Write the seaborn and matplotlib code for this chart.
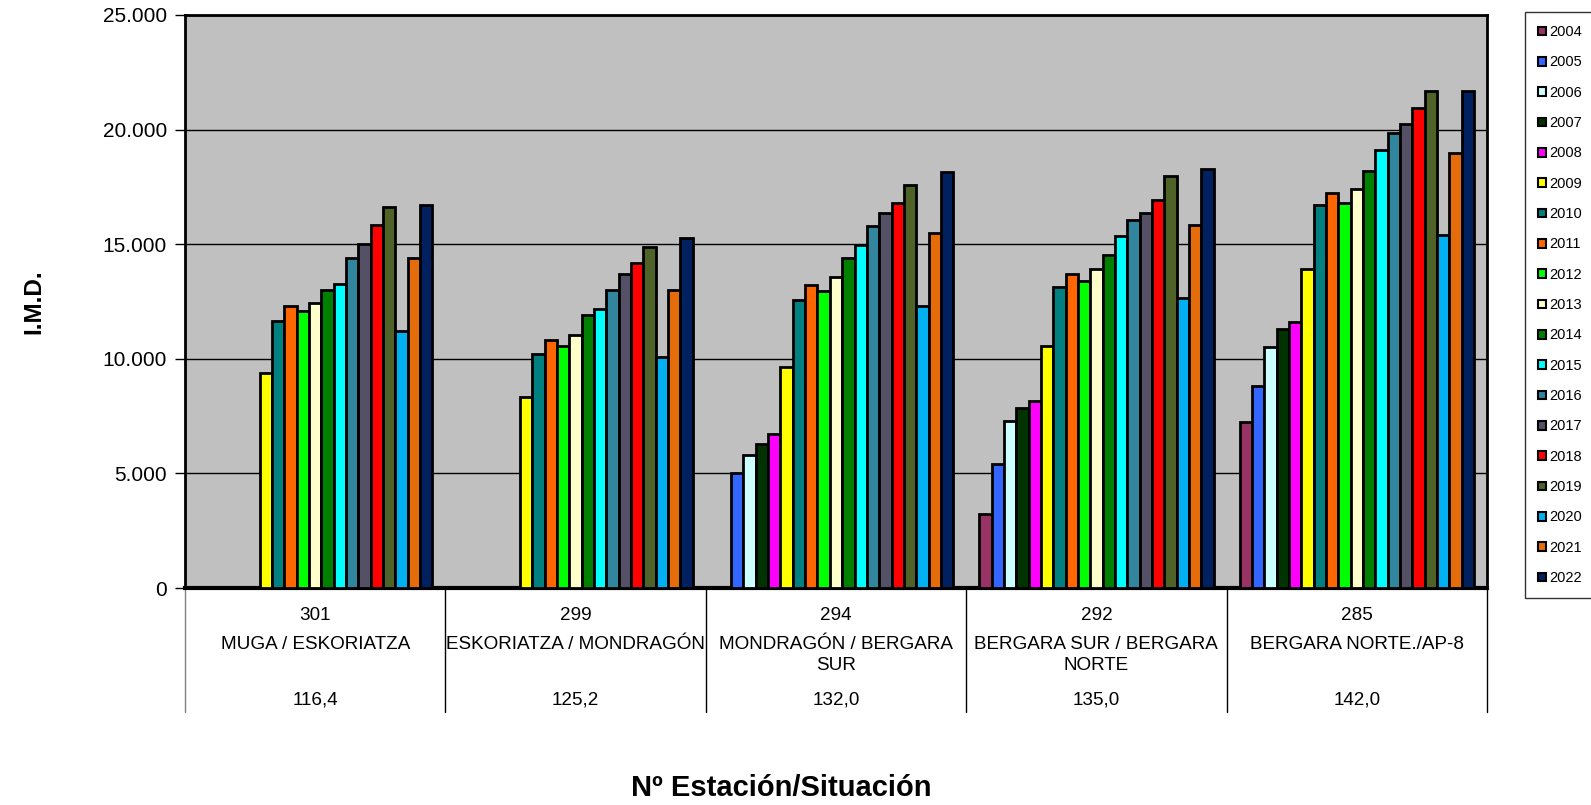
import numpy as np
import pandas as pd
import matplotlib
matplotlib.use("Agg")
import matplotlib.pyplot as plt
import matplotlib.transforms as mtransforms
from matplotlib.ticker import FuncFormatter, MultipleLocator
from matplotlib.patches import Patch
import seaborn as sns

# ---------------- data ----------------
years = [str(y) for y in range(2004, 2023)]
stations = ["301", "299", "294", "292", "285"]
names = ["MUGA / ESKORIATZA", "ESKORIATZA / MONDRAGÓN", "MONDRAGÓN / BERGARA\nSUR",
         "BERGARA SUR / BERGARA\nNORTE", "BERGARA NORTE./AP-8"]
km_points = ["116,4", "125,2", "132,0", "135,0", "142,0"]

nan = np.nan
imd_301 = [nan, nan, nan, nan, nan, 9380, 11630, 12290, 12070, 12440, 13020, 13280,
           14410, 14990, 15820, 16620, 11230, 14380, 16710]
imd_299 = [nan, nan, nan, nan, nan, 8350, 10200, 10800, 10570, 11050, 11900, 12190,
           13020, 13710, 14190, 14870, 10100, 12990, 15250]
imd_294 = [nan, 5020, 5800, 6280, 6720, 9660, 12570, 13220, 12950, 13570, 14410, 14970,
           15790, 16350, 16780, 17600, 12320, 15480, 18150]
imd_292 = [3250, 5390, 7290, 7870, 8180, 10540, 13120, 13680, 13400, 13900, 14520, 15350,
           16070, 16370, 16930, 17990, 12670, 15820, 18300]
imd_285 = [7260, 8830, 10500, 11320, 11620, 13930, 16730, 17230, 16790, 17390, 18210, 19110,
           19870, 20260, 20950, 21690, 15390, 19000, 21670]

year_colors = ["#993366", "#3366FF", "#CCFFFF", "#003300", "#FF00FF", "#FFFF00", "#008080",
               "#FF6600", "#00FF00", "#FFFFCC", "#008000", "#00FFFF", "#31859C", "#545066",
               "#FF0000", "#4F6228", "#00B0F0", "#E46C0A", "#002060"]

rows = []
for st, vals in zip(stations, [imd_301, imd_299, imd_294, imd_292, imd_285]):
    for yr, v in zip(years, vals):
        if not np.isnan(v):
            rows.append({"station": st, "year": yr, "imd": v})
df = pd.DataFrame(rows)

# ---------------- figure ----------------
W, H = 1591, 805
sns.set_style("white")
plt.rcParams["font.family"] = ["Liberation Sans", "DejaVu Sans"]
plt.rcParams["text.color"] = "black"
plt.rcParams["axes.labelcolor"] = "black"
plt.rcParams["xtick.color"] = "black"
plt.rcParams["ytick.color"] = "black"

fig = plt.figure(figsize=(W / 100, H / 100), dpi=100)
L, R, T, B = 185, 1487, 15, 588
ax = fig.add_axes([L / W, 1 - B / H, (R - L) / W, (B - T) / H])
ax.set_facecolor("#C0C0C0")

sns.barplot(data=df, x="station", y="imd", hue="year", order=stations, hue_order=years,
            palette=dict(zip(years, year_colors)), width=0.9, edgecolor="black",
            linewidth=2.0, saturation=1, ax=ax, legend=False, zorder=3)

ax.set_xlim(-0.5, len(stations) - 0.5)
ax.set_ylim(0, 25000)
ax.yaxis.set_major_locator(MultipleLocator(5000))
ax.yaxis.set_major_formatter(FuncFormatter(lambda v, p: f"{int(v):,}".replace(",", ".")))
ax.grid(axis="y", color="black", linewidth=1.0, zorder=0)
ax.set_axisbelow(True)
ax.tick_params(axis="y", which="major", direction="out", length=7, width=1,
               color="black", labelcolor="black", labelsize=15, pad=6, left=True)
ax.tick_params(axis="x", bottom=False, labelbottom=False)
ax.set_xlabel("")
ax.set_ylabel("")
for s in ["top", "right", "left"]:
    ax.spines[s].set_color("black")
    ax.spines[s].set_linewidth(2)
ax.spines["bottom"].set_color("black")
ax.spines["bottom"].set_linewidth(3)

# ------------- category table below the axis -------------
tr = mtransforms.blended_transform_factory(ax.transData, fig.transFigure)
def fy(px):
    return 1 - px / H

for i in range(len(stations)):
    ax.text(i, fy(615), stations[i], transform=tr, ha="center", va="center",
            fontsize=13.6, color="black", clip_on=False)
    ax.text(i, fy(636), names[i], transform=tr, ha="center", va="top",
            fontsize=13.6, linespacing=1.3, color="black", clip_on=False)
    ax.text(i, fy(700), km_points[i], transform=tr, ha="center", va="center",
            fontsize=13.6, color="black", clip_on=False)
for j in range(len(stations) + 1):
    ax.plot([j - 0.5, j - 0.5], [fy(B), fy(712)], transform=tr,
            color="#808080" if j == 0 else "black", linewidth=1, clip_on=False)

fig.text(781 / W, fy(788), "Nº Estación/Situación", ha="center", va="center",
         fontsize=21, fontweight="bold", color="black")
fig.text(34 / W, fy(302), "I.M.D.", ha="center", va="center", rotation=90,
         fontsize=17.5, fontweight="bold", color="black")

# ---------------- legend ----------------
handles = [Patch(facecolor=c, edgecolor="black", linewidth=1.5) for c in year_colors]
leg = fig.legend(handles, years, loc="upper left", bbox_to_anchor=(1525 / W, fy(12)),
                 frameon=True, fancybox=False, shadow=False, fontsize=10.5,
                 handlelength=0.55, handleheight=0.55, handletextpad=0.2,
                 labelspacing=1.12, borderpad=0.9, borderaxespad=0)
leg.get_frame().set_edgecolor("black")
leg.get_frame().set_linewidth(1)
for t in leg.get_texts():
    t.set_color("black")

fig.savefig("out.png", dpi=100, facecolor="white")
